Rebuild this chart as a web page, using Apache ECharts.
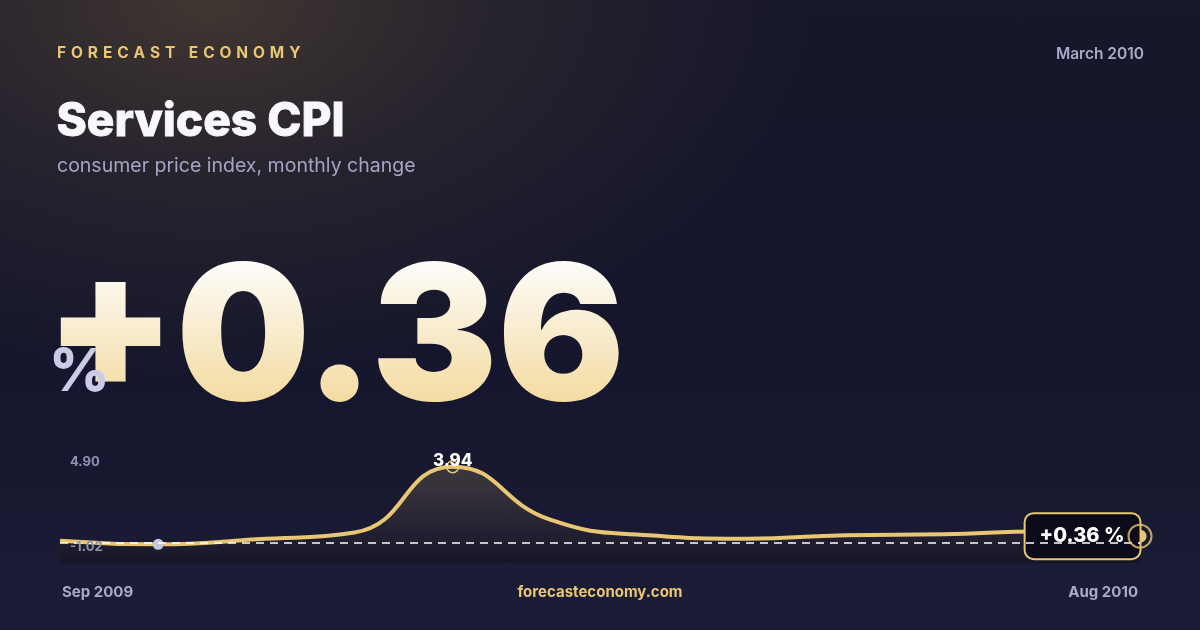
<!DOCTYPE html>
<html>
<head>
<meta charset="utf-8">
<title>Services CPI</title>
<script src="https://cdn.jsdelivr.net/npm/echarts@6/dist/echarts.min.js"></script>
<style>
html, body { margin: 0; padding: 0; width: 1200px; height: 630px; overflow: hidden; }
body {
  background:
    radial-gradient(ellipse 600px 380px at 210px 0px, rgba(72,60,50,0.85) 0%, rgba(72,60,50,0.35) 45%, rgba(72,60,50,0) 100%),
    linear-gradient(180deg, #17172b 0%, #15162c 55%, #1b1c36 100%);
}
#chart { width: 1200px; height: 630px; }
</style>
</head>
<body>
<div id="chart"></div>
<script>
// monthly change, Sep 2009 .. Aug 2010
var months = ['Sep 2009', 'Oct 2009', 'Nov 2009', 'Dec 2009', 'Jan 2010', 'Feb 2010',
              'Mar 2010', 'Apr 2010', 'May 2010', 'Jun 2010', 'Jul 2010', 'Aug 2010'];
var values = [0.13, -0.06, 0.20, 0.55, 3.94, 1.20, 0.41, 0.23, 0.41, 0.46, 0.60, 0.36];
var yRange = [-1.02, 4.90];

var gold = '#e8c674';
var muted = '#a9abc8';
var font = 'Inter, "Noto Sans", sans-serif';

var lastIdx = values.length - 1;
var maxIdx = values.indexOf(Math.max.apply(null, values));
var minIdx = values.indexOf(Math.min.apply(null, values));
var lastVal = values[lastIdx];
var lastText = (lastVal >= 0 ? '+' : '') + lastVal.toFixed(2);

// letter spaced caps, zrender has no letterSpacing
function spaced(s) {
  return s.split(' ').map(function (w) { return w.split('').join(' \u200A'); }).join('   \u200A\u200A');
}

var lineData = values.map(function (v, i) {
  var item = { value: v };
  if (i === minIdx) {
    item.symbol = 'circle';
    item.symbolSize = 11;
    item.itemStyle = { color: '#c3c7e0', borderWidth: 0 };
  }
  if (i === maxIdx) {
    item.symbol = 'circle';
    item.symbolSize = 12;
    item.itemStyle = { color: 'rgba(0,0,0,0)', borderColor: gold, borderWidth: 1.5 };
    item.label = {
      show: true, position: 'top', distance: -9,
      formatter: v.toFixed(2),
      color: '#ffffff', fontSize: 17, fontWeight: 800, fontFamily: font
    };
  }
  if (i === lastIdx) {
    item.symbol = 'circle';
    item.symbolSize = 13;
    item.itemStyle = { color: gold, borderWidth: 0 };
    item.label = {
      show: true, position: 'left', distance: -6,
      formatter: lastText + ' %',
      backgroundColor: '#0b0b1a', borderColor: gold, borderWidth: 2, borderRadius: 8,
      padding: [12, 15, 12, 14],
      color: '#ffffff', fontSize: 20, fontWeight: 800, fontFamily: font
    };
  }
  return item;
});

var chart = echarts.init(document.getElementById('chart'), null, { renderer: 'canvas' });

var bigFont = '900 189px ' + font;
var bigLeft = 45, bigTop = 249;

var option = {
  animation: false,
  backgroundColor: 'transparent',
  grid: { left: 60, right: 60, top: 448, bottom: 67 },
  xAxis: {
    type: 'category',
    data: months,
    boundaryGap: false,
    axisLine: { show: false },
    axisTick: { show: false },
    splitLine: { show: false },
    axisLabel: {
      interval: function (index) { return index === 0 || index === lastIdx; },
      alignMinLabel: 'left',
      alignMaxLabel: 'right',
      margin: 22,
      padding: [0, 2, 0, 2],
      color: muted, fontSize: 15, fontWeight: 700, fontFamily: font
    }
  },
  yAxis: {
    type: 'value',
    min: yRange[0],
    max: yRange[1],
    show: false
  },
  graphic: [
    {
      type: 'text', left: 57, top: 45, z: 10,
      style: { text: spaced('FORECAST ECONOMY'), fill: gold, font: '700 15.5px ' + font }
    },
    {
      type: 'text', right: 56, top: 46, z: 10,
      style: { text: 'March 2010', fill: muted, font: '600 15.5px ' + font }
    },
    {
      type: 'text', left: 56, top: 99, z: 10,
      style: {
        text: 'Services CPI', fill: '#f8f8fc', font: '800 46px ' + font,
        stroke: '#f8f8fc', lineWidth: 0.8
      }
    },
    {
      type: 'text', left: 57, top: 156, z: 10,
      style: { text: 'consumer price index, monthly change', fill: '#a3a5c4', font: '400 19.5px ' + font }
    },
    // big value: shadow on the base layer, glyphs on an upper layer tinted source-atop
    {
      type: 'text', left: bigLeft, top: bigTop, z: 10,
      style: {
        text: lastText, font: bigFont, fill: '#0e0e18',
        shadowColor: 'rgba(0,0,0,0.6)', shadowBlur: 30, shadowOffsetY: 10
      }
    },
    {
      type: 'text', left: bigLeft, top: bigTop, zlevel: 1, z: 20,
      style: { text: lastText, font: bigFont, fill: '#ffffff' }
    },
    {
      type: 'rect', zlevel: 1, z: 21, silent: true,
      shape: { x: 30, y: 240, width: 640, height: 190 },
      style: {
        fill: new echarts.graphic.LinearGradient(0, 262, 0, 407, [
          { offset: 0, color: '#fdfcf9' },
          { offset: 1, color: '#f3da9e' }
        ], true),
        blend: 'source-atop'
      }
    },
    {
      type: 'text', left: 49, top: 344, zlevel: 1, z: 30,
      style: { text: '%', fill: '#c9cce6', font: '800 59px ' + font }
    },
    {
      type: 'text', left: 70, top: 456, z: 10,
      style: { text: yRange[1].toFixed(2), fill: '#8f92b0', font: '700 13px ' + font }
    },
    {
      type: 'text', left: 70, top: 541, z: 10,
      style: { text: yRange[0].toFixed(2), fill: '#8f92b0', font: '700 13px ' + font }
    },
    {
      type: 'text', left: 'center', top: 585, z: 10,
      style: { text: 'forecasteconomy.com', fill: gold, font: '700 15px ' + font }
    }
  ],
  series: [
    {
      type: 'line',
      data: lineData,
      smooth: true,
      symbol: 'none',
      showSymbol: true,
      z: 3,
      lineStyle: { color: gold, width: 4 },
      areaStyle: {
        origin: 'start',
        color: new echarts.graphic.LinearGradient(0, 0, 0, 1, [
          { offset: 0, color: 'rgba(232,196,116,0.25)' },
          { offset: 0.7, color: 'rgba(60,50,45,0.35)' },
          { offset: 1, color: 'rgba(14,12,14,0.55)' }
        ])
      },
      emphasis: { disabled: true },
      markLine: {
        silent: true,
        symbol: 'none',
        label: { show: false },
        lineStyle: { color: '#ffffff', opacity: 1, width: 1.6, type: [8, 6] },
        data: [{ yAxis: 0 }]
      }
    },
    {
      type: 'scatter',
      data: [[lastIdx, lastVal]],
      symbolSize: 23,
      zlevel: 1,
      itemStyle: { color: 'rgba(0,0,0,0)', borderColor: gold, borderWidth: 2 },
      emphasis: { disabled: true }
    }
  ]
};

chart.setOption(option);
</script>
</body>
</html>
